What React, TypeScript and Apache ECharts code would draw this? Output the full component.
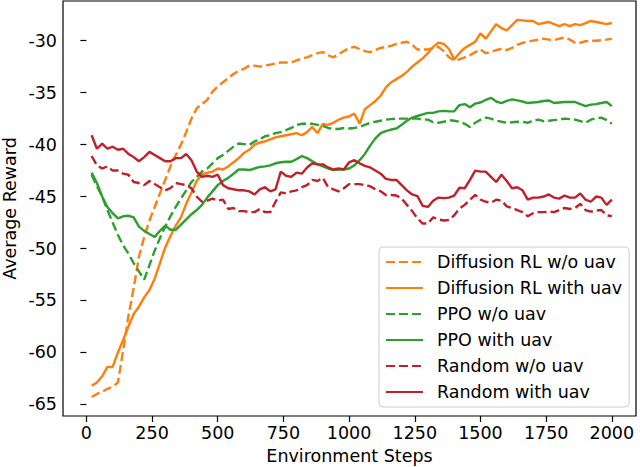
import React, { useEffect, useRef } from "react";
import * as echarts from "echarts";

const steps = [
  20, 40, 60, 80, 100, 120, 140, 160, 180, 200,
  220, 240, 260, 280, 300, 320, 340, 360, 380, 400,
  420, 440, 460, 480, 500, 520, 540, 560, 580, 600,
  620, 640, 660, 680, 700, 720, 740, 760, 780, 800,
  820, 840, 860, 880, 900, 920, 940, 960, 980, 1000,
  1020, 1040, 1060, 1080, 1100, 1120, 1140, 1160, 1180, 1200,
  1220, 1240, 1260, 1280, 1300, 1320, 1340, 1360, 1380, 1400,
  1420, 1440, 1460, 1480, 1500, 1520, 1540, 1560, 1580, 1600,
  1620, 1640, 1660, 1680, 1700, 1720, 1740, 1760, 1780, 1800,
  1820, 1840, 1860, 1880, 1900, 1920, 1940, 1960, 1980, 2000,
];

const diffusionWithout = [
  -64.3, -64.0, -63.8, -63.5, -63.3, -62.9, -59.8, -56.5, -53.8, -50.8,
  -48.9, -47.3, -46.0, -44.7, -43.4, -42.1, -41.0, -40.0, -38.8, -37.5,
  -36.5, -36.1, -35.7, -34.9, -34.4, -34.0, -33.6, -33.2, -32.9, -32.7,
  -32.4, -32.4, -32.5, -32.4, -32.3, -32.2, -32.1, -32.1, -32.1, -31.9,
  -31.7, -31.6, -31.4, -31.2, -31.1, -31.4, -31.6, -31.3, -31.0, -30.7,
  -30.6, -30.8, -31.0, -31.1, -30.9, -30.7, -30.6, -30.5, -30.3, -30.2,
  -30.1, -30.4, -30.85, -30.85, -30.85, -30.7, -30.6, -31.0, -31.6, -31.9,
  -31.8, -31.6, -31.4, -31.1, -30.85, -31.2, -31.1, -30.9, -30.8, -30.9,
  -30.7, -30.4, -30.2, -30.1, -30.0, -29.9, -29.8, -29.9, -29.95, -29.8,
  -29.7, -29.9, -30.2, -30.2, -30.05, -30.0, -30.0, -29.95, -29.9, -29.8,
];

const diffusionWith = [
  -63.2, -62.9, -62.3, -61.4, -61.4, -60.0, -58.8, -57.5, -56.3, -55.6,
  -54.7, -54.0, -52.9, -51.4, -49.9, -48.8, -47.8, -47.0, -45.7, -44.6,
  -43.5, -42.9, -42.7, -42.6, -42.3, -42.4, -42.1, -41.7, -41.3, -40.8,
  -40.5, -40.0, -39.8, -39.7, -39.5, -39.3, -39.2, -39.1, -39.0, -38.9,
  -39.1, -38.8, -38.3, -38.9, -38.0, -38.1, -37.9, -37.6, -37.4, -37.3,
  -37.0, -38.0, -36.6, -36.2, -35.8, -35.3, -34.5, -34.0, -33.7, -33.4,
  -33.0, -32.5, -32.1, -31.7, -31.2, -30.6, -30.2, -30.3, -30.8, -31.8,
  -31.2, -30.7, -30.4, -30.1, -29.3, -29.8, -29.1, -28.4, -28.8, -29.0,
  -28.5, -28.0, -28.05, -28.1, -28.1, -28.4, -28.3, -28.2, -28.4, -28.6,
  -28.4, -28.6, -28.4, -28.5, -28.3, -28.1, -28.2, -28.3, -28.4, -28.3,
];

const ppoWithout = [
  -42.9, -44.0, -45.0, -46.3, -47.5, -48.7, -49.7, -50.5, -51.4, -52.2,
  -53.0, -51.6, -50.2, -49.0, -47.9, -46.9, -46.0, -45.2, -44.4, -43.6,
  -43.1, -42.6, -42.3, -41.8, -41.3, -41.0, -40.6, -40.2, -39.9, -39.95,
  -40.05, -39.7, -39.5, -39.2, -39.1, -38.9, -38.8, -38.6, -38.4, -38.1,
  -38.0, -38.0, -38.0, -38.1, -38.2, -38.4, -38.5, -38.5, -38.4, -38.45,
  -38.4, -38.3, -38.1, -37.9, -37.8, -37.7, -37.6, -37.55, -37.5, -37.5,
  -37.5, -37.5, -37.5, -37.6, -37.6, -37.85, -37.9, -37.8, -37.65, -37.7,
  -37.8, -38.0, -38.3, -37.9, -37.6, -37.4, -37.5, -37.7, -37.8, -37.9,
  -37.85, -37.8, -37.8, -37.9, -37.7, -37.6, -37.75, -37.7, -37.65, -37.6,
  -37.5, -37.55, -37.6, -37.75, -37.9, -37.6, -37.45, -37.4, -37.65, -38.0,
];

const ppoWith = [
  -42.7, -43.7, -45.0, -46.0, -46.6, -47.1, -46.9, -46.85, -47.0, -47.9,
  -48.3, -48.6, -48.9, -48.3, -47.8, -48.2, -48.2, -47.7, -47.2, -46.7,
  -46.3, -45.8, -45.1, -44.5, -43.9, -43.5, -43.2, -42.8, -42.4, -42.4,
  -42.45, -42.3, -42.15, -42.1, -42.0, -41.8, -41.7, -41.65, -41.65, -41.4,
  -41.1, -41.3, -41.6, -41.9, -42.1, -42.3, -42.45, -42.4, -42.4, -42.3,
  -42.0, -41.5, -40.9, -40.1, -39.4, -38.9, -38.7, -38.55, -38.45, -38.1,
  -37.7, -37.4, -37.25, -37.1, -36.95, -36.95, -36.8, -36.75, -36.8, -36.8,
  -36.2, -36.1, -36.4, -36.05, -35.95, -35.7, -35.5, -35.85, -36.0, -35.8,
  -35.65, -35.75, -35.85, -36.0, -35.95, -35.9, -35.8, -35.75, -36.0, -35.95,
  -35.9, -35.9, -35.9, -36.1, -36.3, -36.15, -36.1, -36.0, -35.9, -36.3,
];

const randomWithout = [
  -41.1, -42.0, -42.3, -42.1, -42.5, -42.5, -42.8, -42.9, -43.6, -43.7,
  -43.9, -43.5, -43.8, -44.1, -44.4, -44.2, -43.7, -43.8, -43.9, -44.2,
  -45.0, -45.5, -45.4, -45.2, -45.4, -45.3, -46.2, -46.1, -46.4, -46.4,
  -46.5, -46.5, -46.2, -46.5, -46.5, -45.5, -44.6, -44.7, -44.5, -44.4,
  -44.1, -43.9, -43.4, -43.5, -43.2, -44.1, -44.3, -44.5, -44.2, -43.8,
  -43.8, -43.8, -43.9, -44.0, -44.3, -44.5, -44.85, -44.85, -44.9, -45.2,
  -45.8, -46.4, -47.1, -47.6, -47.6, -47.0, -47.2, -47.3, -47.25, -46.8,
  -46.15, -45.8, -45.3, -44.85, -45.3, -45.5, -45.6, -45.3, -45.4, -45.95,
  -46.1, -46.3, -46.5, -46.9, -46.6, -46.5, -46.5, -46.45, -46.5, -46.3,
  -46.1, -46.2, -46.1, -45.7, -46.3, -46.45, -46.35, -46.3, -46.8, -46.9,
];

const randomWith = [
  -39.1, -40.4, -39.9, -40.4, -40.2, -40.5, -40.4, -40.9, -41.2, -41.6,
  -41.2, -40.7, -41.0, -41.3, -41.6, -41.6, -41.3, -41.3, -40.9, -41.5,
  -42.6, -43.1, -43.0, -43.1, -42.9, -43.9, -44.2, -44.3, -44.4, -44.4,
  -44.5, -44.8, -44.3, -44.1, -44.5, -44.3, -42.6, -43.0, -43.1, -42.7,
  -42.8, -42.2, -41.8, -41.9, -41.9, -42.2, -42.4, -42.3, -42.4, -41.7,
  -41.5, -41.8, -42.05, -42.2, -42.5, -42.8, -43.3, -43.4, -43.4, -43.9,
  -44.4, -44.8, -44.95, -45.9, -46.0, -45.4, -45.1, -45.15, -45.1, -44.9,
  -44.15, -44.2, -43.4, -42.5, -42.6, -42.6, -43.1, -43.6, -42.9, -43.5,
  -44.2, -44.1, -44.4, -45.3, -45.1, -45.1, -45.0, -44.8, -45.1, -45.2,
  -44.9, -45.1, -45.1, -44.7, -45.3, -45.5, -45.0, -45.1, -45.8, -45.3,
];

const xTicks = [0, 250, 500, 750, 1000, 1250, 1500, 1750, 2000];
const yTicks = [-65, -60, -55, -50, -45, -40, -35, -30];

const seriesDefs = [
  { name: "Diffusion RL w/o uav", values: diffusionWithout, color: "#ff7f0e", dashed: true },
  { name: "Diffusion RL with uav", values: diffusionWith, color: "#ff7f0e", dashed: false },
  { name: "PPO w/o uav", values: ppoWithout, color: "#2ca02c", dashed: true },
  { name: "PPO with uav", values: ppoWith, color: "#2ca02c", dashed: false },
  { name: "Random w/o uav", values: randomWithout, color: "#c21f28", dashed: true },
  { name: "Random with uav", values: randomWith, color: "#c21f28", dashed: false },
];

const FONT = "DejaVu Sans";
const FS = 17.5;

export default function App() {
  const ref = useRef<HTMLDivElement>(null);
  useEffect(() => {
    document.body.style.margin = "0";
    const chart = echarts.init(ref.current!, null, { renderer: "svg" });
    chart.setOption({
      animation: false,
      textStyle: { fontFamily: FONT },
      grid: {
        left: 63,
        top: 1,
        right: 4,
        bottom: 467 - 416,
        containLabel: false,
        outerBoundsMode: "none",
        show: true,
        borderColor: "#000",
        borderWidth: 1.2,
        backgroundColor: "transparent",
      },
      xAxis: {
        type: "value",
        min: -89,
        max: 2092,
        name: "Environment Steps",
        nameLocation: "middle",
        nameGap: 31,
        nameMoveOverlap: false,
        nameTextStyle: { fontFamily: FONT, fontSize: FS, color: "#000" },
        axisLine: { show: false },
        splitLine: { show: false },
        axisTick: {
          show: true,
          length: 6,
          customValues: xTicks,
          lineStyle: { color: "#000", width: 1.2 },
        },
        axisLabel: {
          customValues: xTicks,
          margin: 8,
          formatter: (v: number) => String(v),
          fontFamily: FONT,
          fontSize: FS,
          color: "#000",
        },
      },
      yAxis: {
        type: "value",
        min: -66.12,
        max: -26.18,
        name: "Average Reward",
        nameLocation: "middle",
        nameRotate: 90,
        nameGap: 44,
        nameMoveOverlap: false,
        nameTextStyle: { fontFamily: FONT, fontSize: FS, color: "#000", lineHeight: 18 },
        axisLine: { show: false },
        splitLine: { show: false },
        axisTick: {
          show: true,
          length: 6,
          customValues: yTicks,
          lineStyle: { color: "#000", width: 1.2 },
        },
        axisLabel: {
          customValues: yTicks,
          margin: 6,
          formatter: (v: number) => String(v),
          fontFamily: FONT,
          fontSize: FS,
          color: "#000",
        },
      },
      legend: {
        orient: "vertical",
        left: 379,
        top: 247,
        itemWidth: 37,
        itemHeight: 14,
        itemGap: 6,
        padding: [5, 7, 5, 6],
        backgroundColor: "rgba(255,255,255,0.8)",
        borderColor: "#cccccc",
        borderWidth: 1,
        borderRadius: 4,
        itemStyle: { opacity: 0 },
        textStyle: {
          fontFamily: FONT,
          fontSize: FS,
          color: "#000",
          lineHeight: 20,
          padding: [0, 0, 0, 9],
        },
        data: seriesDefs.map((s) => s.name),
      },
      series: seriesDefs.map((s) => ({
        name: s.name,
        type: "line",
        symbol: "none",
        showSymbol: false,
        data: steps.map((x, i) => [x, s.values[i]]),
        lineStyle: {
          color: s.color,
          width: 2.4,
          type: s.dashed ? [9, 4] : "solid",
          cap: "butt",
        },
        itemStyle: { color: s.color },
        emphasis: { disabled: true },
      })),
    });
    return () => chart.dispose();
  }, []);
  return <div ref={ref} style={{ width: 640, height: 467 }} />;
}
